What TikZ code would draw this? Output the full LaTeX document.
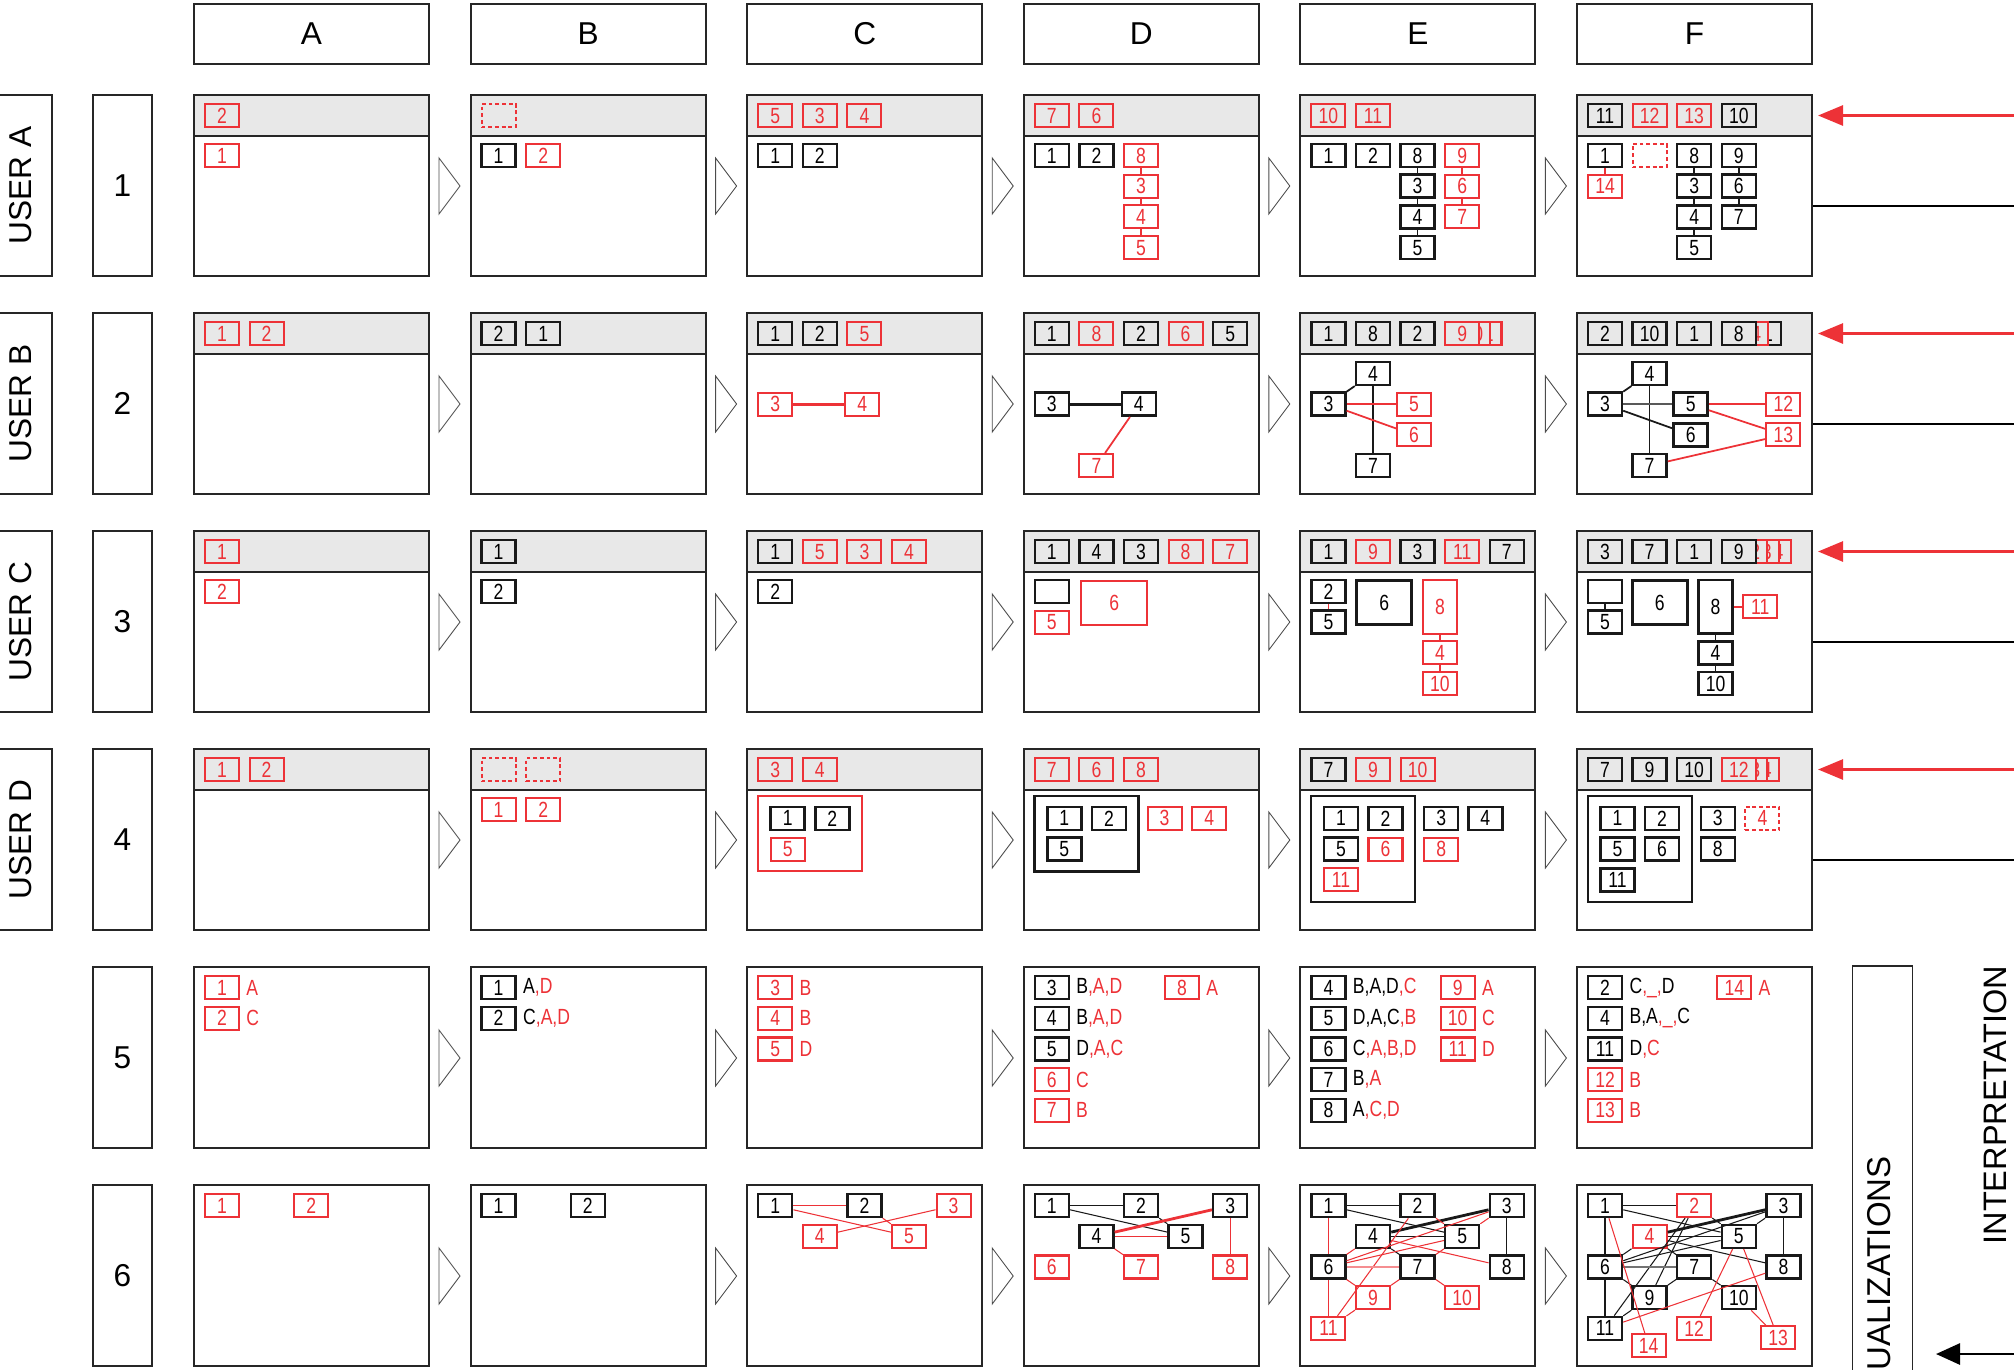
\documentclass[tikz,border=0pt]{standalone}
\usepackage{fontspec}
\setmainfont{Liberation Sans}
\newfontfamily\narrowfont{Liberation Sans}[FakeStretch=0.8]
\usepackage{xcolor}
\usetikzlibrary{arrows.meta, positioning, fit}
\definecolor{mred}{RGB}{237,50,55}
\definecolor{hdrgray}{RGB}{232,232,232}

\begin{document}
\begin{tikzpicture}[
    x=0.02cm, y=-0.02cm,
    big/.style={font=\fontsize{18}{20}\selectfont},
    panel/.style={draw=black!85, line width=1.1pt, minimum width=4.7cm, minimum height=3.62cm, inner sep=0pt},
    colhead/.style={big, draw=black!85, line width=1.1pt, minimum width=4.7cm, minimum height=1.2cm},
    numbox/.style={big, draw=black!85, line width=1pt, minimum width=1.18cm, minimum height=3.62cm},
    userbox/.style={big, draw=black!85, line width=1.1pt, rotate=90, minimum width=3.62cm, minimum height=1.24cm},
    sq/.style={minimum width=0.68cm, minimum height=0.46cm, inner sep=0pt, fill=white,
               font=\narrowfont\fontsize{12.5}{13}\selectfont},
    bk/.style={sq, draw=black!90, line width=1.4pt},
    rd/.style={sq, draw=mred, text=mred, line width=1.2pt},
    rdash/.style={rd, dash pattern=on 2.2pt off 1.6pt},
    hd/.style={fill=hdrgray},
    frame/.style={draw=black!90, line width=1.4pt, inner xsep=0.23cm, inner ysep=0.19cm},
    lbl/.style={inner sep=0pt, font=\narrowfont\fontsize{12.5}{13}\selectfont},
    ln/.style={black!90, line width=0.6pt},
    lnr/.style={mred, line width=0.6pt},
    stk/.style={black!90, line width=1pt},
    stkr/.style={mred, line width=1pt},
    lnk/.style={black!90, line width=1.6pt},
    lnkr/.style={mred, line width=1.6pt},
    chev/.style={draw=black!70, line width=0.5pt},
    redarr/.style={mred, line width=1.6pt, -{Triangle[length=0.5cm, width=0.4cm]}},
    blkarr/.style={black, line width=1.6pt, -{Triangle[length=0.48cm, width=0.42cm]}},
    outln/.style={black, line width=1.6pt},
    cell/.style 2 args={shift={({194+276.6*(#1-1)+28},{95+218*(#2-1)+60.5})}, x=0.892cm, y=-0.614cm},
]
\useasboundingbox (0,0) rectangle (2014,1369);
\clip (0,0) rectangle (2014,1369);

% frames, headers and step marks
\foreach \col [count=\ci from 0] in {A,...,F} {
  \pgfmathsetmacro\L{194+276.6*\ci}
  \node[colhead] (h\col) at (\L+117.5,34) {\col};
  \foreach \r in {1,...,6} {
    \pgfmathsetmacro\T{95+218*(\r-1)}
    \ifnum\r<5 \fill[hdrgray] (\L,\T) rectangle ++(235,41); \fi
    \node[panel] (p\col\r) at (\L+117.5,\T+90.5) {};
    \ifnum\r<5 \draw[black!85, line width=1pt] (\L,\T+41) -- ++(235,0); \fi
    \ifnum\ci<5 \draw[chev] (\L+245,\T+63) -- (\L+266,\T+91) -- (\L+245,\T+119) -- cycle; \fi
  }
}
\foreach \r in {1,...,6}
  \node[numbox] (n\r) at (122.5,185.5+218*\r-218) {\r};
\foreach \u [count=\r] in {A,B,C,D}
  \node[userbox] (u\u) at (21,185.5+218*\r-218) {USER \u};

% right side
\foreach \r in {1,...,4} {
  \coordinate (rs\r) at (2020,115.5+218*\r-218);
  \coordinate (re\r) at (1818,115.5+218*\r-218);
  \coordinate (bs\r) at (2020,206+218*\r-218);
  \draw[redarr] (rs\r) -- (re\r);
  \draw[outln] (pF\r.east |- bs\r) -- (bs\r);
}
\node[draw=black!85, line width=1.1pt, rotate=90, minimum width=8.68cm, minimum height=1.2cm] (vis) at (1882.5,1183) {};
\node[rotate=90, anchor=east, inner sep=0pt, font=\fontsize{18.8}{20}\selectfont] (visl) at (1879,1156) {VISUALIZATIONS};
\node[rotate=90, font=\fontsize{18.5}{20}\selectfont] (interp) at (1995,1105) {INTERPRETATION};
\coordinate (ks) at (2020,1354);
\coordinate (ke) at (1936,1354);
\draw[blkarr] (ks) -- (ke);

% ---- row 1
\begin{scope}[cell={1}{1}]
  \node[rd,hd] (a1h2) at (0,-1.3) {2};
  \node[rd] (a1n1) at (0,0) {1};
\end{scope}
\begin{scope}[cell={2}{1}]
  \node[rdash,hd] (b1hx) at (0,-1.3) {};
  \node[bk] (b1n1) at (0,0) {1};
  \node[rd] (b1n2) at (1,0) {2};
\end{scope}
\begin{scope}[cell={3}{1}]
  \foreach \t/\s [count=\i from 0] in {5/rd,3/rd,4/rd} \node[\s,hd] (c1h\t) at (\i,-1.3) {\t};
  \node[bk] (c1n1) at (0,0) {1};
  \node[bk] (c1n2) at (1,0) {2};
\end{scope}
\begin{scope}[cell={4}{1}]
  \foreach \t/\s [count=\i from 0] in {7/rd,6/rd} \node[\s,hd] (d1h\t) at (\i,-1.3) {\t};
  \node[bk] (d1n1) at (0,0) {1};
  \node[bk] (d1n2) at (1,0) {2};
  \node[rd] (d1n8) at (2,0) {8};
  \node[rd] (d1n3) at (2,1) {3};
  \node[rd] (d1n4) at (2,2) {4};
  \node[rd] (d1n5) at (2,3) {5};
  \draw[stkr] (d1n8) -- (d1n3) -- (d1n4) -- (d1n5);
\end{scope}
\begin{scope}[cell={5}{1}]
  \foreach \t/\s [count=\i from 0] in {10/rd,11/rd} \node[\s,hd] (e1h\t) at (\i,-1.3) {\t};
  \node[bk] (e1n1) at (0,0) {1};
  \node[bk] (e1n2) at (1,0) {2};
  \node[bk] (e1n8) at (2,0) {8};
  \node[bk] (e1n3) at (2,1) {3};
  \node[bk] (e1n4) at (2,2) {4};
  \node[bk] (e1n5) at (2,3) {5};
  \node[rd] (e1n9) at (3,0) {9};
  \node[rd] (e1n6) at (3,1) {6};
  \node[rd] (e1n7) at (3,2) {7};
  \draw[stk] (e1n8) -- (e1n3) -- (e1n4) -- (e1n5);
  \draw[stkr] (e1n9) -- (e1n6) -- (e1n7);
\end{scope}
\begin{scope}[cell={6}{1}]
  \foreach \t/\s [count=\i from 0] in {11/bk,12/rd,13/rd,10/bk} \node[\s,hd] (f1h\t) at (\i,-1.3) {\t};
  \node[bk] (f1n1) at (0,0) {1};
  \node[rd] (f1n14) at (0,1) {14};
  \node[rdash] (f1nx) at (1,0) {};
  \node[bk] (f1n8) at (2,0) {8};
  \node[bk] (f1n3) at (2,1) {3};
  \node[bk] (f1n4) at (2,2) {4};
  \node[bk] (f1n5) at (2,3) {5};
  \node[bk] (f1n9) at (3,0) {9};
  \node[bk] (f1n6) at (3,1) {6};
  \node[bk] (f1n7) at (3,2) {7};
  \draw[stkr] (f1n1) -- (f1n14);
  \draw[stk] (f1n8) -- (f1n3) -- (f1n4) -- (f1n5);
  \draw[stk] (f1n9) -- (f1n6) -- (f1n7);
\end{scope}

% ---- row 2
\begin{scope}[cell={1}{2}]
  \foreach \t/\s [count=\i from 0] in {1/rd,2/rd} \node[\s,hd] (a2h\t) at (\i,-1.3) {\t};
\end{scope}
\begin{scope}[cell={2}{2}]
  \foreach \t/\s [count=\i from 0] in {2/bk,1/bk} \node[\s,hd] (b2h\t) at (\i,-1.3) {\t};
\end{scope}
\begin{scope}[cell={3}{2}]
  \foreach \t/\s [count=\i from 0] in {1/bk,2/bk,5/rd} \node[\s,hd] (c2h\t) at (\i,-1.3) {\t};
  \node[rd] (c2n3) at (0,1) {3};
  \node[rd] (c2n4) at (1.95,1) {4};
  \draw[lnkr] (c2n3) -- (c2n4);
\end{scope}
\begin{scope}[cell={4}{2}]
  \foreach \t/\s [count=\i from 0] in {1/bk,8/rd,2/bk,6/rd,5/bk} \node[\s,hd] (d2h\t) at (\i,-1.3) {\t};
  \node[bk] (d2n3) at (0,1) {3};
  \node[bk] (d2n4) at (1.95,1) {4};
  \node[rd] (d2n7) at (1,3) {7};
  \draw[lnk] (d2n3) -- (d2n4);
  \draw[stkr] (d2n4) -- (d2n7);
\end{scope}
\begin{scope}[cell={5}{2}]
  \foreach \t/\s [count=\i from 0] in {1/bk,8/bk,2/bk} \node[\s,hd] (e2h\t) at (\i,-1.3) {\t};
  \node[rd,hd] (e2h11) at (3.5,-1.3) {11};
  \node[rd,hd] (e2h10) at (3.25,-1.3) {10};
  \node[rd,hd] (e2h9) at (3,-1.3) {9};
  \node[bk] (e2n4) at (1,0) {4};
  \node[bk] (e2n3) at (0,1) {3};
  \node[rd] (e2n5) at (1.92,1) {5};
  \node[rd] (e2n6) at (1.92,2) {6};
  \node[bk] (e2n7) at (1,3) {7};
  \draw[stk] (e2n3) -- (e2n4);
  \draw[stk] (e2n4) -- (e2n7);
  \draw[stkr] (e2n3) -- (e2n5);
  \draw[stkr] (e2n3) -- (e2n6);
\end{scope}
\begin{scope}[cell={6}{2}]
  \foreach \t/\s [count=\i from 0] in {2/bk,10/bk,1/bk} \node[\s,hd] (f2h\t) at (\i,-1.3) {\t};
  \node[bk,hd] (f2h11) at (3.56,-1.3) {11};
  \node[rd,hd] (f2h14) at (3.28,-1.3) {14};
  \node[bk,hd] (f2h8) at (3,-1.3) {8};
  \node[bk] (f2n4) at (1,0) {4};
  \node[bk] (f2n3) at (0,1) {3};
  \node[bk] (f2n5) at (1.92,1) {5};
  \node[bk] (f2n6) at (1.92,2) {6};
  \node[bk] (f2n7) at (1,3) {7};
  \node[rd] (f2n12) at (4,1) {12};
  \node[rd] (f2n13) at (4,2) {13};
  \draw[stk] (f2n3) -- (f2n4);
  \draw[stk] (f2n4) -- (f2n7);
  \draw[stk, black!65] (f2n3) -- (f2n5);
  \draw[stk] (f2n3) -- (f2n6);
  \draw[stkr] (f2n5) -- (f2n12);
  \draw[stkr] (f2n5) -- (f2n13);
  \draw[stkr] (f2n7) -- (f2n13);
\end{scope}

% ---- row 3
\begin{scope}[cell={1}{3}]
  \node[rd,hd] (a3h1) at (0,-1.3) {1};
  \node[rd] (a3n2) at (0,0) {2};
\end{scope}
\begin{scope}[cell={2}{3}]
  \node[bk,hd] (b3h1) at (0,-1.3) {1};
  \node[bk] (b3n2) at (0,0) {2};
\end{scope}
\begin{scope}[cell={3}{3}]
  \foreach \t/\s [count=\i from 0] in {1/bk,5/rd,3/rd,4/rd} \node[\s,hd] (c3h\t) at (\i,-1.3) {\t};
  \node[bk] (c3n2) at (0,0) {2};
\end{scope}
\begin{scope}[cell={4}{3}]
  \foreach \t/\s [count=\i from 0] in {1/bk,4/bk,3/bk,8/rd,7/rd} \node[\s,hd] (d3h\t) at (\i,-1.3) {\t};
  \node[bk] (d3nx) at (0,0) {};
  \node[rd] (d3n5) at (0,1) {5};
  \node[rd, minimum width=1.32cm, minimum height=0.88cm] (d3n6) at (1.4,0.36) {6};
\end{scope}
\begin{scope}[cell={5}{3}]
  \foreach \t/\s [count=\i from 0] in {1/bk,9/rd,3/bk,11/rd,7/bk} \node[\s,hd] (e3h\t) at (\i,-1.3) {\t};
  \node[bk] (e3n2) at (0,0) {2};
  \node[bk] (e3n5) at (0,1) {5};
  \node[bk, minimum width=1.1cm, minimum height=0.88cm] (e3n6) at (1.25,0.36) {6};
  \node[rd, minimum height=1.07cm] (e3n8) at (2.5,0.5) {8};
  \node[rd] (e3n4) at (2.5,2) {4};
  \node[rd] (e3n10) at (2.5,3) {10};
  \draw[stkr] (e3n2) -- (e3n5);
  \draw[stkr] (e3n8) -- (e3n4) -- (e3n10);
\end{scope}
\begin{scope}[cell={6}{3}]
  \foreach \t/\s [count=\i from 0] in {3/bk,7/bk,1/bk} \node[\s,hd] (f3h\t) at (\i,-1.3) {\t};
  \node[rd,hd] (f3h14) at (3.78,-1.3) {14};
  \node[rd,hd] (f3h13) at (3.52,-1.3) {13};
  \node[rd,hd] (f3h12) at (3.26,-1.3) {12};
  \node[bk,hd] (f3h9) at (3,-1.3) {9};
  \node[bk] (f3nx) at (0,0) {};
  \node[bk] (f3n5) at (0,1) {5};
  \node[bk, minimum width=1.1cm, minimum height=0.88cm] (f3n6) at (1.23,0.36) {6};
  \node[bk, minimum height=1.07cm] (f3n8) at (2.48,0.5) {8};
  \node[rd] (f3n11) at (3.48,0.5) {11};
  \node[bk] (f3n4) at (2.48,2) {4};
  \node[bk] (f3n10) at (2.48,3) {10};
  \draw[stk] (f3nx) -- (f3n5);
  \draw[stkr] (f3n8) -- (f3n11);
  \draw[stk] (f3n8) -- (f3n4) -- (f3n10);
\end{scope}

% ---- row 4
\begin{scope}[cell={1}{4}]
  \foreach \t/\s [count=\i from 0] in {1/rd,2/rd} \node[\s,hd] (a4h\t) at (\i,-1.3) {\t};
\end{scope}
\begin{scope}[cell={2}{4}]
  \node[rdash,hd] (b4hx) at (0,-1.3) {};
  \node[rdash,hd] (b4hy) at (1,-1.3) {};
  \node[rd] (b4n1) at (0,0) {1};
  \node[rd] (b4n2) at (1,0) {2};
\end{scope}
\begin{scope}[cell={3}{4}]
  \foreach \t/\s [count=\i from 0] in {3/rd,4/rd} \node[\s,hd] (c4h\t) at (\i,-1.3) {\t};
  \node[bk] (c4n1) at (0.28,0.29) {1};
  \node[bk] (c4n2) at (1.28,0.29) {2};
  \node[rd] (c4n5) at (0.28,1.29) {5};
  \node[frame, draw=mred, line width=1.2pt, fit=(c4n1)(c4n2)(c4n5)] (c4g) {};
\end{scope}
\begin{scope}[cell={4}{4}]
  \foreach \t/\s [count=\i from 0] in {7/rd,6/rd,8/rd} \node[\s,hd] (d4h\t) at (\i,-1.3) {\t};
  \node[bk] (d4n1) at (0.28,0.29) {1};
  \node[bk] (d4n2) at (1.28,0.29) {2};
  \node[bk] (d4n5) at (0.28,1.29) {5};
  \node[frame, fit=(d4n1)(d4n2)(d4n5)] (d4g) {};
  \node[rd] (d4n3) at (2.53,0.29) {3};
  \node[rd] (d4n4) at (3.53,0.29) {4};
\end{scope}
\begin{scope}[cell={5}{4}]
  \foreach \t/\s [count=\i from 0] in {7/bk,9/rd,10/rd} \node[\s,hd] (e4h\t) at (\i,-1.3) {\t};
  \node[bk] (e4n1) at (0.28,0.29) {1};
  \node[bk] (e4n2) at (1.28,0.29) {2};
  \node[bk] (e4n5) at (0.28,1.29) {5};
  \node[rd] (e4n6) at (1.28,1.29) {6};
  \node[rd] (e4n11) at (0.28,2.29) {11};
  \node[frame, fit=(e4n1)(e4n2)(e4n11)] (e4g) {};
  \node[bk] (e4n3) at (2.53,0.29) {3};
  \node[bk] (e4n4) at (3.52,0.29) {4};
  \node[rd] (e4n8) at (2.53,1.29) {8};
\end{scope}
\begin{scope}[cell={6}{4}]
  \foreach \t/\s [count=\i from 0] in {7/bk,9/bk,10/bk} \node[\s,hd] (f4h\t) at (\i,-1.3) {\t};
  \node[rd,hd] (f4h14) at (3.52,-1.3) {14};
  \node[rd,hd] (f4h13) at (3.26,-1.3) {13};
  \node[rd,hd] (f4h12) at (3,-1.3) {12};
  \node[bk] (f4n1) at (0.28,0.29) {1};
  \node[bk] (f4n2) at (1.28,0.29) {2};
  \node[bk] (f4n5) at (0.28,1.29) {5};
  \node[bk] (f4n6) at (1.28,1.29) {6};
  \node[bk] (f4n11) at (0.28,2.29) {11};
  \node[frame, fit=(f4n1)(f4n2)(f4n11)] (f4g) {};
  \node[bk] (f4n3) at (2.53,0.29) {3};
  \node[rdash] (f4n4) at (3.53,0.29) {4};
  \node[bk] (f4n8) at (2.53,1.29) {8};
\end{scope}

% ---- row 5
\begin{scope}[cell={1}{5}]
  \node[rd] (a5n1) at (0,-1.3) {1};
  \node[rd] (a5n2) at (0,-0.3) {2};
  \node[lbl, text=mred, right=0.12cm of a5n1] (a5l1) {A};
  \node[lbl, text=mred, right=0.12cm of a5n2] (a5l2) {C};
\end{scope}
\begin{scope}[cell={2}{5}]
  \node[bk] (b5n1) at (0,-1.3) {1};
  \node[bk] (b5n2) at (0,-0.3) {2};
  \node[lbl, right=0.12cm of b5n1] (b5l1) {A\textcolor{mred}{,D}};
  \node[lbl, right=0.12cm of b5n2] (b5l2) {C\textcolor{mred}{,A,D}};
\end{scope}
\begin{scope}[cell={3}{5}]
  \node[rd] (c5n3) at (0,-1.3) {3};
  \node[rd] (c5n4) at (0,-0.3) {4};
  \node[rd] (c5n5) at (0,0.7) {5};
  \node[lbl, text=mred, right=0.12cm of c5n3] (c5l3) {B};
  \node[lbl, text=mred, right=0.12cm of c5n4] (c5l4) {B};
  \node[lbl, text=mred, right=0.12cm of c5n5] (c5l5) {D};
\end{scope}
\begin{scope}[cell={4}{5}]
  \node[bk] (d5n3) at (0,-1.3) {3};
  \node[bk] (d5n4) at (0,-0.3) {4};
  \node[bk] (d5n5) at (0,0.7) {5};
  \node[rd] (d5n6) at (0,1.7) {6};
  \node[rd] (d5n7) at (0,2.7) {7};
  \node[rd] (d5n8) at (2.92,-1.3) {8};
  \node[lbl, right=0.12cm of d5n3] (d5l3) {B\textcolor{mred}{,A,D}};
  \node[lbl, right=0.12cm of d5n4] (d5l4) {B\textcolor{mred}{,A,D}};
  \node[lbl, right=0.12cm of d5n5] (d5l5) {D\textcolor{mred}{,A,C}};
  \node[lbl, text=mred, right=0.12cm of d5n6] (d5l6) {C};
  \node[lbl, text=mred, right=0.12cm of d5n7] (d5l7) {B};
  \node[lbl, text=mred, right=0.12cm of d5n8] (d5l8) {A};
\end{scope}
\begin{scope}[cell={5}{5}]
  \node[bk] (e5n4) at (0,-1.3) {4};
  \node[bk] (e5n5) at (0,-0.3) {5};
  \node[bk] (e5n6) at (0,0.7) {6};
  \node[bk] (e5n7) at (0,1.7) {7};
  \node[bk] (e5n8) at (0,2.7) {8};
  \node[rd] (e5n9) at (2.9,-1.3) {9};
  \node[rd] (e5n10) at (2.9,-0.3) {10};
  \node[rd] (e5n11) at (2.9,0.7) {11};
  \node[lbl, right=0.12cm of e5n4] (e5l4) {B,A,D\textcolor{mred}{,C}};
  \node[lbl, right=0.12cm of e5n5] (e5l5) {D,A,C\textcolor{mred}{,B}};
  \node[lbl, right=0.12cm of e5n6] (e5l6) {C\textcolor{mred}{,A,B,D}};
  \node[lbl, right=0.12cm of e5n7] (e5l7) {B\textcolor{mred}{,A}};
  \node[lbl, right=0.12cm of e5n8] (e5l8) {A\textcolor{mred}{,C,D}};
  \node[lbl, text=mred, right=0.12cm of e5n9] (e5l9) {A};
  \node[lbl, text=mred, right=0.12cm of e5n10] (e5l10) {C};
  \node[lbl, text=mred, right=0.12cm of e5n11] (e5l11) {D};
\end{scope}
\begin{scope}[cell={6}{5}]
  \node[bk] (f5n2) at (0,-1.3) {2};
  \node[bk] (f5n4) at (0,-0.3) {4};
  \node[bk] (f5n11) at (0,0.7) {11};
  \node[rd] (f5n12) at (0,1.7) {12};
  \node[rd] (f5n13) at (0,2.7) {13};
  \node[rd] (f5n14) at (2.9,-1.3) {14};
  \node[lbl, right=0.12cm of f5n2] (f5l2) {C\textcolor{mred}{,\_,}D};
  \node[lbl, right=0.12cm of f5n4] (f5l4) {B,A\textcolor{mred}{,\_,}C};
  \node[lbl, right=0.12cm of f5n11] (f5l11) {D\textcolor{mred}{,C}};
  \node[lbl, text=mred, right=0.12cm of f5n12] (f5l12) {B};
  \node[lbl, text=mred, right=0.12cm of f5n13] (f5l13) {B};
  \node[lbl, text=mred, right=0.12cm of f5n14] (f5l14) {A};
\end{scope}

% ---- row 6
\begin{scope}[cell={1}{6}]
  \node[rd] (a6n1) at (0,-1.3) {1};
  \node[rd] (a6n2) at (2,-1.3) {2};
\end{scope}
\begin{scope}[cell={2}{6}]
  \node[bk] (b6n1) at (0,-1.3) {1};
  \node[bk] (b6n2) at (2,-1.3) {2};
\end{scope}
\begin{scope}[cell={3}{6}]
  \node[bk] (c6n1) at (0,-1.3) {1};
  \node[bk] (c6n2) at (2,-1.3) {2};
  \node[rd] (c6n3) at (4,-1.3) {3};
  \node[rd] (c6n4) at (1,-0.3) {4};
  \node[rd] (c6n5) at (3,-0.3) {5};
  \draw[lnr] (c6n1) -- (c6n2);
  \draw[lnr] (c6n1) -- (c6n5);
  \draw[lnr] (c6n3) -- (c6n4);
  \draw[lnr] (c6n2) -- (c6n5);
\end{scope}
\begin{scope}[cell={4}{6}]
  \node[bk] (d6n1) at (0,-1.3) {1};
  \node[bk] (d6n2) at (2,-1.3) {2};
  \node[bk] (d6n3) at (4,-1.3) {3};
  \node[bk] (d6n4) at (1,-0.3) {4};
  \node[bk] (d6n5) at (3,-0.3) {5};
  \node[rd] (d6n6) at (0,0.7) {6};
  \node[rd] (d6n7) at (2,0.7) {7};
  \node[rd] (d6n8) at (4,0.7) {8};
  \draw[ln] (d6n1) -- (d6n2);
  \draw[ln] (d6n1) -- (d6n5);
  \draw[ln] (d6n2) -- (d6n5);
  \draw[lnkr] (d6n3) -- (d6n4);
  \draw[lnr] (d6n4) -- (d6n5);
  \draw[lnr] (d6n4) -- (d6n7);
  \draw[lnr] (d6n3) -- (d6n8);
\end{scope}
\begin{scope}[cell={5}{6}]
  \node[bk] (e6n1) at (0,-1.3) {1};
  \node[bk] (e6n2) at (2,-1.3) {2};
  \node[bk] (e6n3) at (4,-1.3) {3};
  \node[bk] (e6n4) at (1,-0.3) {4};
  \node[bk] (e6n5) at (3,-0.3) {5};
  \node[bk] (e6n6) at (0,0.7) {6};
  \node[bk] (e6n7) at (2,0.7) {7};
  \node[bk] (e6n8) at (4,0.7) {8};
  \node[rd] (e6n9) at (1,1.7) {9};
  \node[rd] (e6n10) at (3,1.7) {10};
  \node[rd] (e6n11) at (0,2.7) {11};
  \draw[ln] (e6n1) -- (e6n2);
  \draw[ln] (e6n1) -- (e6n5);
  \draw[lnk] (e6n3) -- (e6n4);
  \draw[ln] (e6n3) -- (e6n8);
  \draw[ln] (e6n4) -- (e6n5);
  \draw[ln] (e6n4) -- (e6n7);
  \draw[lnr] (e6n1) -- (e6n6);
  \draw[lnr] (e6n6) -- (e6n11);
  \draw[lnr] (e6n2) -- (e6n11);
  \draw[lnr] (e6n2) -- (e6n5);
  \draw[lnr] (e6n3) -- (e6n5);
  \draw[lnr] (e6n3) -- (e6n6);
  \draw[lnr] (e6n4) -- (e6n6);
  \draw[lnr] (e6n5) -- (e6n6);
  \draw[lnr] (e6n4) -- (e6n8);
  \draw[lnr] (e6n5) -- (e6n7);
  \draw[mred!55, line width=1.6pt] (e6n6) -- (e6n7);
  \draw[lnr] (e6n6) -- (e6n9);
  \draw[lnr] (e6n7) -- (e6n9);
  \draw[lnr] (e6n7) -- (e6n10);
  \draw[lnr] (e6n9) -- (e6n11);
\end{scope}
\begin{scope}[cell={6}{6}]
  \node[bk] (f6n1) at (0,-1.3) {1};
  \node[rd] (f6n2) at (2,-1.3) {2};
  \node[bk] (f6n3) at (4,-1.3) {3};
  \node[rd] (f6n4) at (1,-0.3) {4};
  \node[bk] (f6n5) at (3,-0.3) {5};
  \node[bk] (f6n6) at (0,0.7) {6};
  \node[bk] (f6n7) at (2,0.7) {7};
  \node[bk] (f6n8) at (4,0.7) {8};
  \node[bk] (f6n9) at (1,1.7) {9};
  \node[bk] (f6n10) at (3,1.7) {10};
  \node[bk] (f6n11) at (0,2.7) {11};
  \node[rd] (f6n12) at (2,2.7) {12};
  \node[rd] (f6n13) at (3.88,3) {13};
  \node[rd] (f6n14) at (0.98,3.26) {14};
  \draw[ln] (f6n1) -- (f6n2);
  \draw[ln] (f6n1) -- (f6n5);
  \draw[ln] (f6n1) -- (f6n6);
  \draw[ln] (f6n6) -- (f6n11);
  \draw[ln] (f6n2) -- (f6n11);
  \draw[ln] (f6n2) -- (f6n9);
  \draw[ln] (f6n2) -- (f6n5);
  \draw[lnk] (f6n3) -- (f6n4);
  \draw[ln] (f6n3) -- (f6n5);
  \draw[ln] (f6n3) -- (f6n6);
  \draw[ln] (f6n3) -- (f6n8);
  \draw[ln] (f6n4) -- (f6n5);
  \draw[ln] (f6n4) -- (f6n6);
  \draw[ln] (f6n4) -- (f6n7);
  \draw[ln] (f6n4) -- (f6n8);
  \draw[ln] (f6n5) -- (f6n6);
  \draw[black!55, line width=1.6pt] (f6n6) -- (f6n7);
  \draw[ln] (f6n6) -- (f6n9);
  \draw[ln] (f6n7) -- (f6n9);
  \draw[ln] (f6n9) -- (f6n11);
  \draw[ln] (f6n7) -- (f6n10);
  \draw[lnr] (f6n1) -- (f6n14);
  \draw[lnr] (f6n11) -- (f6n8);
  \draw[lnr] (f6n5) -- (f6n12);
  \draw[lnr] (f6n5) -- (f6n13);
  \draw[lnr] (f6n10) -- (f6n13);
\end{scope}

\end{tikzpicture}
\end{document}
